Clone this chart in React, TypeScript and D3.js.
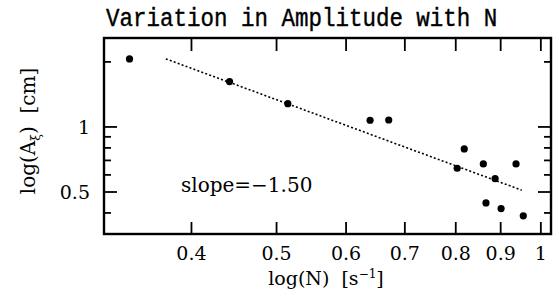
import * as d3 from "d3";

const logN = [0.34, 0.442, 0.515, 0.639, 0.671, 0.818, 0.803, 0.86, 0.937, 0.887, 0.866, 0.901, 0.955];
const ampl = [2.065, 1.621, 1.282, 1.074, 1.077, 0.791, 0.644, 0.674, 0.674, 0.576, 0.445, 0.419, 0.388];

// endpoints of the fitted line (slope -1.50)
const fitX = [0.374, 0.951];
const fitY = [2.065, 0.51];

const xTicks = [0.4, 0.5, 0.6, 0.7, 0.8, 0.9, 1];
const yMajor = [0.5, 1];
const yMinor = [0.4, 0.6, 0.7, 0.8, 0.9, 2];

const width = 555;
const height = 300;
const left = 104, right = 551, top = 38, bottom = 234;
const serif = "DejaVu Serif";

const App = () => {
  const x = d3.scaleLog().domain([0.318, 1.027]).range([left, right]);
  const y = d3.scaleLog().domain([0.3196, 2.58]).range([bottom, top]);

  const fit = d3.line<number>()
    .x(d => x(fitX[d]))
    .y(d => y(fitY[d]));

  return (
    <svg width={width} height={height} style={{ position: "absolute", left: 0, top: 0, background: "#fff" }}>
      <text x={106} y={26} fontFamily="Liberation Mono" fontSize={22.5} fill="#000" stroke="#000" strokeWidth={0.35}
        transform="translate(0,26) scale(1,1.12) translate(0,-26)">
        Variation in Amplitude with N
      </text>

      <g stroke="#000" strokeWidth={1.8}>
        {xTicks.map(t => (
          <g key={t}>
            <line x1={x(t)} x2={x(t)} y1={bottom} y2={bottom - 12} />
            <line x1={x(t)} x2={x(t)} y1={top} y2={top + 13} />
          </g>
        ))}
        {yMajor.map(t => (
          <g key={t}>
            <line x1={left} x2={left + 13} y1={y(t)} y2={y(t)} />
            <line x1={right} x2={right - 13} y1={y(t)} y2={y(t)} />
          </g>
        ))}
        {yMinor.map(t => (
          <g key={t}>
            <line x1={left} x2={left + 7} y1={y(t)} y2={y(t)} />
            <line x1={right} x2={right - 7} y1={y(t)} y2={y(t)} />
          </g>
        ))}
      </g>
      <rect x={left} y={top} width={right - left} height={bottom - top} fill="none" stroke="#000" strokeWidth={2.4} />

      {xTicks.map(t => (
        <text key={t} x={x(t)} y={260} textAnchor="middle" fontFamily={serif} fontSize={19}>
          {d3.format("")(t)}
        </text>
      ))}
      {yMajor.map(t => (
        <text key={t} x={90} y={y(t) + 7} textAnchor="end" fontFamily={serif} fontSize={19}>
          {d3.format("")(t)}
        </text>
      ))}

      <path d={fit([0, 1]) ?? ""} fill="none" stroke="#000" strokeWidth={1.6} strokeDasharray="2,2.2" />

      {logN.map((d, i) => (
        <circle key={i} cx={x(d)} cy={y(ampl[i])} r={3.6} fill="#000" />
      ))}

      <text x={181} y={192} fontFamily={serif} fontSize={20}>slope=−1.50</text>

      <text x={326} y={285} textAnchor="middle" fontFamily={serif} fontSize={19} style={{ whiteSpace: "pre" }}>
        {"log(N)  [s"}<tspan dy={-7} fontSize={12}>−1</tspan><tspan dy={7}>]</tspan>
      </text>

      <text transform="translate(35,131) rotate(-90)" textAnchor="middle" fontFamily={serif} fontSize={20}
        style={{ whiteSpace: "pre" }}>
        {"log(A"}<tspan dy={5} fontSize={12}>ξ</tspan><tspan dy={-5}>{")  [cm]"}</tspan>
      </text>
    </svg>
  );
};

export default App;
